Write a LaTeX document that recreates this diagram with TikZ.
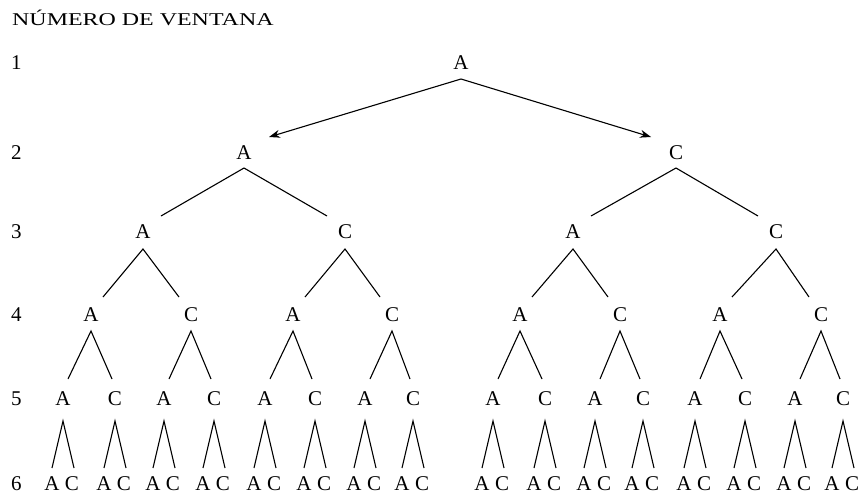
\documentclass[tikz,border=0pt]{standalone}
\usepackage{fontspec}
\setmainfont{Liberation Serif}
\usetikzlibrary{calc,arrows.meta}
\begin{document}
\begin{tikzpicture}[x=1pt,y=-1pt,
  lbl/.style={inner sep=0pt,font=\fontsize{21}{23}\selectfont},
  rowno/.style={lbl,anchor=west},
  edge/.style={line width=1.1pt},
  arr/.style={edge,-{Stealth[length=11pt,width=8pt]}}]
\useasboundingbox (0,0) rectangle (861,501);
\node[anchor=west,inner sep=0pt,font=\fontsize{18}{20}\selectfont] (title) at (12,18) {\scalebox{1.33}[1]{NÚMERO DE VENTANA}};
% row numbers
\foreach \i/\y in {1/63,2/153,3/232,4/315,5/399,6/484}
  \node[rowno] (row\i) at (11,\y) {\i};
% row 1
\node[lbl] (n1-1) at (461,63) {A};
% row 2
\node[lbl] (n2-1) at (244,153) {A};
\node[lbl] (n2-2) at (676,153) {C};
% row 3
\foreach \x [count=\k] in {143,345,573,776}
  {\node[lbl] (n3-\k) at (\x,232) {\ifodd\k A\else C\fi};}
% row 4
\foreach \x [count=\k] in {91,191,293,392,520,620,720,821}
  {\node[lbl] (n4-\k) at (\x,315) {\ifodd\k A\else C\fi};}
% row 5 and row 6
\foreach \x [count=\k] in {63,115,164,214,265,315,365,413,493,545,595,643,695,745,795,843}
  {\node[lbl] (n5-\k) at (\x,399) {\ifodd\k A\else C\fi};
   \node[lbl] (n6-\k-a) at ({\x-11},484) {A};
   \node[lbl] (n6-\k-c) at ({\x+9},484) {C};}
% edges row 1 -> 2
\draw[arr] ($(n1-1)+(0,16)$) -- ($(n2-1)+(25,-16)$);
\draw[arr] ($(n1-1)+(0,16)$) -- ($(n2-2)+(-25,-16)$);
% row 2 -> 3
\foreach \p in {1,2}{
  \pgfmathtruncatemacro\a{2*\p-1}\pgfmathtruncatemacro\b{2*\p}
  \draw[edge] ($(n3-\a)+(18,-16)$) -- ($(n2-\p)+(0,15)$) -- ($(n3-\b)+(-18,-16)$);}
% row 3 -> 4
\foreach \p in {1,...,4}{
  \pgfmathtruncatemacro\a{2*\p-1}\pgfmathtruncatemacro\b{2*\p}
  \draw[edge] ($(n4-\a)+(12,-18)$) -- ($(n3-\p)+(0,17)$) -- ($(n4-\b)+(-12,-18)$);}
% row 4 -> 5
\foreach \p in {1,...,8}{
  \pgfmathtruncatemacro\a{2*\p-1}\pgfmathtruncatemacro\b{2*\p}
  \draw[edge] ($(n5-\a)+(5,-20)$) -- ($(n4-\p)+(0,16)$) -- ($(n5-\b)+(-3,-20)$);}
% row 5 -> 6
\foreach \p in {1,...,16}{
  \draw[edge] ($(n6-\p-a)+(0,-16)$) -- ($(n5-\p)+(0,22)$) -- ($(n6-\p-c)+(2,-16)$);}
\end{tikzpicture}
\end{document}
